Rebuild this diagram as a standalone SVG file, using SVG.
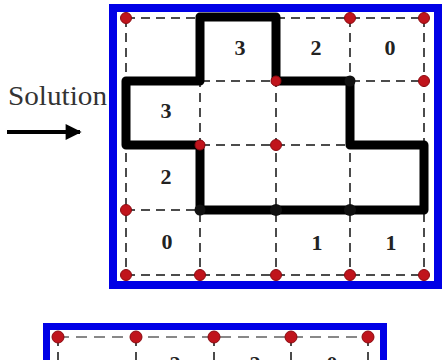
<svg xmlns="http://www.w3.org/2000/svg" width="446" height="360" viewBox="0 0 446 360">
<defs>
<style>
.frame{fill:none;stroke:#0000e6;}
.dash{stroke:#111;stroke-width:1.5;stroke-dasharray:9 6;fill:none;}
.dashg{stroke:#888;stroke-width:2;stroke-dasharray:11 7;fill:none;}
.sol{fill:none;stroke:#000;stroke-width:9;stroke-linejoin:round;stroke-linecap:round;}
.red{fill:#c0141c;stroke:#8a0a10;stroke-width:1;}
.blk{fill:#111;}
.num{font-family:"Liberation Serif","Times New Roman",serif;font-weight:bold;font-size:22px;fill:#222;text-anchor:middle;}
.lbl{font-family:"Liberation Serif","Times New Roman",serif;font-size:28px;fill:#333;}
</style>
<marker id="ah" viewBox="0 0 10 10" refX="9" refY="5" markerWidth="5" markerHeight="4" markerUnits="strokeWidth" orient="auto">
<path d="M0,0 L10,5 L0,10 z" fill="#000"/>
</marker>
</defs>
<rect width="446" height="360" fill="#fff"/>

<g id="label">
<text class="lbl" x="8" y="105" textLength="99" lengthAdjust="spacingAndGlyphs">Solution</text>
</g>

<g id="connectors">
<line x1="7" y1="132" x2="80" y2="132" stroke="#000" stroke-width="4" marker-end="url(#ah)"/>
</g>

<g id="puzzle-solution">
<rect class="frame" x="113" y="8" width="325" height="277" stroke-width="8"/>
<g id="grid">
<path class="dash" d="M126,18V275M200,18V275M276,18V275M350,18V275M424,18V275"/>
<path class="dash" d="M126,18H424M126,81H424M126,145H424M126,210H424M126,275H424"/>
</g>
<g id="red-dots">
<circle class="red" cx="126" cy="18" r="5.5"/>
<circle class="red" cx="350" cy="18" r="5.5"/>
<circle class="red" cx="424" cy="18" r="5.5"/>
<circle class="red" cx="424" cy="81" r="5.5"/>
<circle class="red" cx="276" cy="145" r="5.5"/>
<circle class="red" cx="126" cy="210" r="5.5"/>
<circle class="red" cx="126" cy="275" r="5.5"/>
<circle class="red" cx="200" cy="275" r="5.5"/>
<circle class="red" cx="276" cy="275" r="5.5"/>
<circle class="red" cx="350" cy="275" r="5.5"/>
<circle class="red" cx="424" cy="275" r="5.5"/>
</g>
<path id="loop" class="sol" d="M200,17H276V81H350V145H424V210H200V145H126V81H200Z"/>
<g id="corner-dots">
<circle class="red" cx="276" cy="81" r="5"/>
<circle class="red" cx="200" cy="145" r="5"/>
<circle class="blk" cx="276" cy="210" r="6"/>
<circle class="blk" cx="350" cy="210" r="6"/>
<circle class="blk" cx="350" cy="81" r="5.5"/>
<circle class="blk" cx="200" cy="210" r="5.5"/>
</g>
<g id="numbers">
<text class="num" x="240" y="55">3</text>
<text class="num" x="316" y="55">2</text>
<text class="num" x="390" y="55">0</text>
<text class="num" x="166" y="118">3</text>
<text class="num" x="166" y="184">2</text>
<text class="num" x="167" y="249">0</text>
<text class="num" x="317" y="250">1</text>
<text class="num" x="391" y="250">1</text>
</g>
</g>

<g id="puzzle-bottom">
<rect class="frame" x="46.5" y="326.5" width="337" height="60" stroke-width="7"/>
<path class="dashg" d="M58,337H368"/>
<path class="dash" d="M58,337V370M136,337V370M214,337V370M291,337V370M368,337V370"/>
<circle class="red" cx="58" cy="337" r="6"/>
<circle class="red" cx="136" cy="337" r="6"/>
<circle class="red" cx="214" cy="337" r="6"/>
<circle class="red" cx="291" cy="337" r="6"/>
<circle class="red" cx="368" cy="337" r="6"/>
<text class="num" x="175" y="371">2</text>
<text class="num" x="255" y="371">2</text>
<text class="num" x="332" y="371">0</text>
</g>
</svg>
